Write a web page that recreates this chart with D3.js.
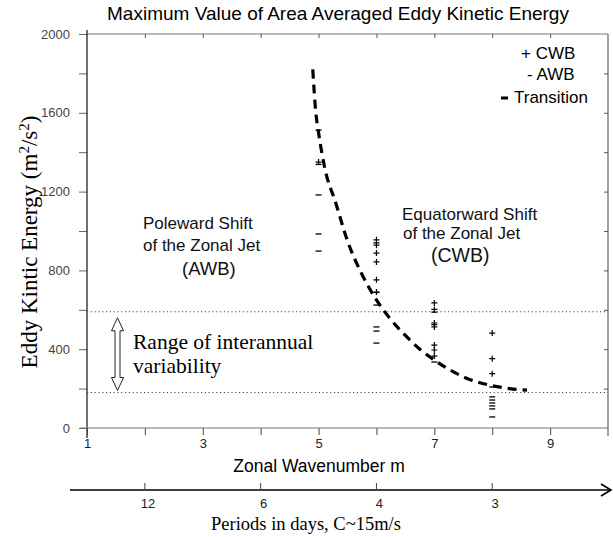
<!DOCTYPE html>
<html>
<head>
<meta charset="utf-8">
<script src="https://cdn.jsdelivr.net/npm/d3@7"></script>
<style>
  body { margin: 0; background: #fff; }
  svg { display: block; }
  .sans { font-family: "Liberation Sans", Arial, sans-serif; }
  .serif { font-family: "Liberation Serif", "Times New Roman", serif; }
</style>
</head>
<body>
<div id="chart"></div>
<script>
// wavenumber / value pairs
var cwbX = [5, 6, 6, 6, 6, 6, 6, 7, 7, 7, 7, 7, 7, 7, 8, 8, 8];
var cwbY = [1350, 955, 928, 888, 843, 752, 690, 635, 602, 533, 513, 421, 396, 365, 482, 352, 276];
var awbX = [5, 5, 5, 5, 5, 6, 6, 6, 6, 6, 6, 7, 7, 7, 8, 8, 8, 8, 8, 8, 8];
var awbY = [1512, 1338, 1183, 985, 898, 940, 688, 624, 513, 492, 431, 588, 525, 335, 208, 158, 142, 127, 112, 97, 56];
var transX = [4.9, 4.95, 5.0, 5.1, 5.3, 5.5, 5.75, 6.0, 6.25, 6.5, 6.75, 7.0, 7.5, 8.0, 8.3, 8.6];
var transY = [1820, 1610, 1500, 1330, 1140, 950, 780, 650, 550, 470, 400, 345, 260, 215, 200, 192];
var rangeBand = [180, 590];
var xTickLabels = [1, 3, 5, 7, 9];
var periodLabels = [12, 6, 4, 3];
var periodAtWavenumber = [2, 4, 6, 8];

var W = 613, H = 537;
var x = d3.scaleLinear().domain([1, 10]).range([87, 608]);
var y = d3.scaleLinear().domain([0, 2000]).range([428, 34]);

var svg = d3.select('#chart').append('svg')
  .attr('width', W).attr('height', H);

// title
svg.append('text').attr('class', 'sans')
  .attr('x', 338).attr('y', 20)
  .attr('text-anchor', 'middle').attr('font-size', 19)
  .text('Maximum Value of Area Averaged Eddy Kinetic Energy');

// frame: top and right
svg.append('line').attr('x1', 87).attr('x2', 608).attr('y1', y(2000)).attr('y2', y(2000))
  .attr('stroke', '#777').attr('stroke-width', 1);
svg.append('line').attr('x1', 608).attr('x2', 608).attr('y1', y(2000)).attr('y2', 436)
  .attr('stroke', '#444').attr('stroke-width', 1);

// top ticks (inward)
svg.append('g').attr('transform', 'translate(0,' + y(2000) + ')')
  .call(d3.axisBottom(x).tickValues(d3.range(2, 10)).tickSize(4).tickFormat(''))
  .call(function (g) { g.select('.domain').remove(); g.selectAll('line').attr('stroke', '#555'); });

// right ticks (inward)
svg.append('g').attr('transform', 'translate(608,0)')
  .call(d3.axisLeft(y).tickValues(d3.range(200, 2000, 200)).tickSize(4).tickFormat(''))
  .call(function (g) { g.select('.domain').remove(); g.selectAll('line').attr('stroke', '#555'); });

// left axis
var yAxis = svg.append('g').attr('transform', 'translate(87,0)')
  .call(d3.axisLeft(y).tickValues(d3.range(0, 2001, 200)).tickSize(8).tickPadding(9)
    .tickFormat(function (d) { return d % 400 === 0 ? d : ''; }));
yAxis.select('.domain').remove();
yAxis.selectAll('line').attr('stroke', '#666');
yAxis.selectAll('text').attr('class', 'sans').attr('font-size', 13).attr('fill', '#444');
svg.append('line').attr('x1', 87).attr('x2', 87).attr('y1', 30).attr('y2', 438)
  .attr('stroke', '#111').attr('stroke-width', 1.2);

// bottom axis
var xAxis = svg.append('g').attr('transform', 'translate(0,' + y(0) + ')')
  .call(d3.axisBottom(x).tickValues(d3.range(1, 10)).tickSize(7).tickPadding(4)
    .tickFormat(function (d) { return xTickLabels.indexOf(d) >= 0 ? d : ''; }));
xAxis.select('.domain').remove();
xAxis.selectAll('line').attr('stroke', '#444');
xAxis.selectAll('text').attr('class', 'sans').attr('font-size', 13).attr('fill', '#222');
svg.append('line').attr('x1', 80).attr('x2', 608).attr('y1', y(0)).attr('y2', y(0))
  .attr('stroke', '#777').attr('stroke-width', 1);

// interannual range dotted lines
svg.selectAll('line.band').data(rangeBand).enter().append('line')
  .attr('class', 'band')
  .attr('x1', 87).attr('x2', 608)
  .attr('y1', function (d) { return y(d); }).attr('y2', function (d) { return y(d); })
  .attr('stroke', '#444').attr('stroke-width', 1).attr('stroke-dasharray', '1.2,2.6');

// double arrow (hollow)
var ax = 117.5, aTop = y(rangeBand[1]) + 6, aBot = y(rangeBand[0]) - 2;
var hw = 6, sw = 2.5, hl = 13;
svg.append('path')
  .attr('d', 'M' + ax + ',' + aTop +
    'L' + (ax + hw) + ',' + (aTop + hl) + 'L' + (ax + sw) + ',' + (aTop + hl) +
    'L' + (ax + sw) + ',' + (aBot - hl) + 'L' + (ax + hw) + ',' + (aBot - hl) +
    'L' + ax + ',' + aBot +
    'L' + (ax - hw) + ',' + (aBot - hl) + 'L' + (ax - sw) + ',' + (aBot - hl) +
    'L' + (ax - sw) + ',' + (aTop + hl) + 'L' + (ax - hw) + ',' + (aTop + hl) + 'Z')
  .attr('fill', '#fff').attr('stroke', '#222').attr('stroke-width', 1);

svg.append('text').attr('class', 'serif').attr('x', 133).attr('y', 349)
  .attr('font-size', 21.5).text('Range of interannual');
svg.append('text').attr('class', 'serif').attr('x', 133).attr('y', 373)
  .attr('font-size', 21.5).text('variability');

// annotations
function block(lines) {
  lines.forEach(function (l) {
    svg.append('text').attr('class', 'sans')
      .attr('x', l[0]).attr('y', l[1])
      .attr('font-size', l[3]).attr('fill', '#111').text(l[2]);
  });
}
block([[143, 229, 'Poleward Shift', 17], [143, 251, 'of the Zonal Jet', 17], [182, 275, '(AWB)', 18.5]]);
block([[402, 220, 'Equatorward Shift', 17], [403, 239, 'of the Zonal Jet', 17], [431, 262, '(CWB)', 19.5]]);

// transition curve
var trans = transX.map(function (d, i) { return [d, transY[i]]; });
svg.append('path').datum(trans)
  .attr('d', d3.line().x(function (d) { return x(d[0]); }).y(function (d) { return y(d[1]); })
    .curve(d3.curveMonotoneX))
  .attr('fill', 'none').attr('stroke', '#000').attr('stroke-width', 3.2)
  .attr('stroke-dasharray', '9,6');

// markers
var cwb = cwbX.map(function (d, i) { return [d, cwbY[i]]; });
var awb = awbX.map(function (d, i) { return [d, awbY[i]]; });
svg.append('g').selectAll('path').data(cwb).enter().append('path')
  .attr('d', function (d) {
    var px = x(d[0]), py = y(d[1]);
    return 'M' + (px - 3) + ',' + py + 'H' + (px + 3) + 'M' + px + ',' + (py - 3) + 'V' + (py + 3);
  })
  .attr('stroke', '#000').attr('stroke-width', 1.2);
svg.append('g').selectAll('path').data(awb).enter().append('path')
  .attr('d', function (d) {
    var px = x(d[0]), py = y(d[1]);
    return 'M' + (px - 3) + ',' + py + 'H' + (px + 3);
  })
  .attr('stroke', '#000').attr('stroke-width', 1.3);

// legend
svg.append('text').attr('class', 'sans').attr('x', 521).attr('y', 59)
  .attr('font-size', 17).text('+ CWB');
svg.append('text').attr('class', 'sans').attr('x', 527).attr('y', 80)
  .attr('font-size', 17).text('-  AWB');
svg.append('line').attr('x1', 501).attr('x2', 508).attr('y1', 98).attr('y2', 98)
  .attr('stroke', '#000').attr('stroke-width', 3);
svg.append('text').attr('class', 'sans').attr('x', 514).attr('y', 103)
  .attr('font-size', 17).text('Transition');

// axis titles
svg.append('text').attr('class', 'sans').attr('x', 319).attr('y', 472)
  .attr('text-anchor', 'middle').attr('font-size', 17.5).text('Zonal Wavenumber m');

var yl = svg.append('text').attr('class', 'serif')
  .attr('transform', 'translate(37,242) rotate(-90)')
  .attr('text-anchor', 'middle').attr('font-size', 23);
yl.append('tspan').text('Eddy Kintic Energy (m');
yl.append('tspan').attr('baseline-shift', 'super').attr('font-size', 15).text('2');
yl.append('tspan').text('/s');
yl.append('tspan').attr('baseline-shift', 'super').attr('font-size', 15).text('2');
yl.append('tspan').text(')');

// periods arrow axis
var ay = 490;
svg.append('line').attr('x1', 70).attr('x2', 611).attr('y1', ay).attr('y2', ay)
  .attr('stroke', '#000').attr('stroke-width', 1.6);
svg.append('path').attr('d', 'M601,' + (ay - 6) + 'L611,' + ay + 'L601,' + (ay + 6))
  .attr('fill', 'none').attr('stroke', '#000').attr('stroke-width', 1.6);
var pg = svg.append('g').selectAll('g').data(periodLabels).enter().append('g')
  .attr('transform', function (d, i) { return 'translate(' + x(periodAtWavenumber[i]) + ',' + ay + ')'; });
pg.append('line').attr('y1', -7).attr('y2', 0).attr('stroke', '#444');
pg.append('text').attr('class', 'sans').attr('y', 18).attr('x', 3)
  .attr('text-anchor', 'middle').attr('font-size', 13).attr('fill', '#222')
  .text(function (d) { return d; });

svg.append('text').attr('class', 'serif').attr('x', 306).attr('y', 530)
  .attr('text-anchor', 'middle').attr('font-size', 18.5).text('Periods in days, C~15m/s');
</script>
</body>
</html>
